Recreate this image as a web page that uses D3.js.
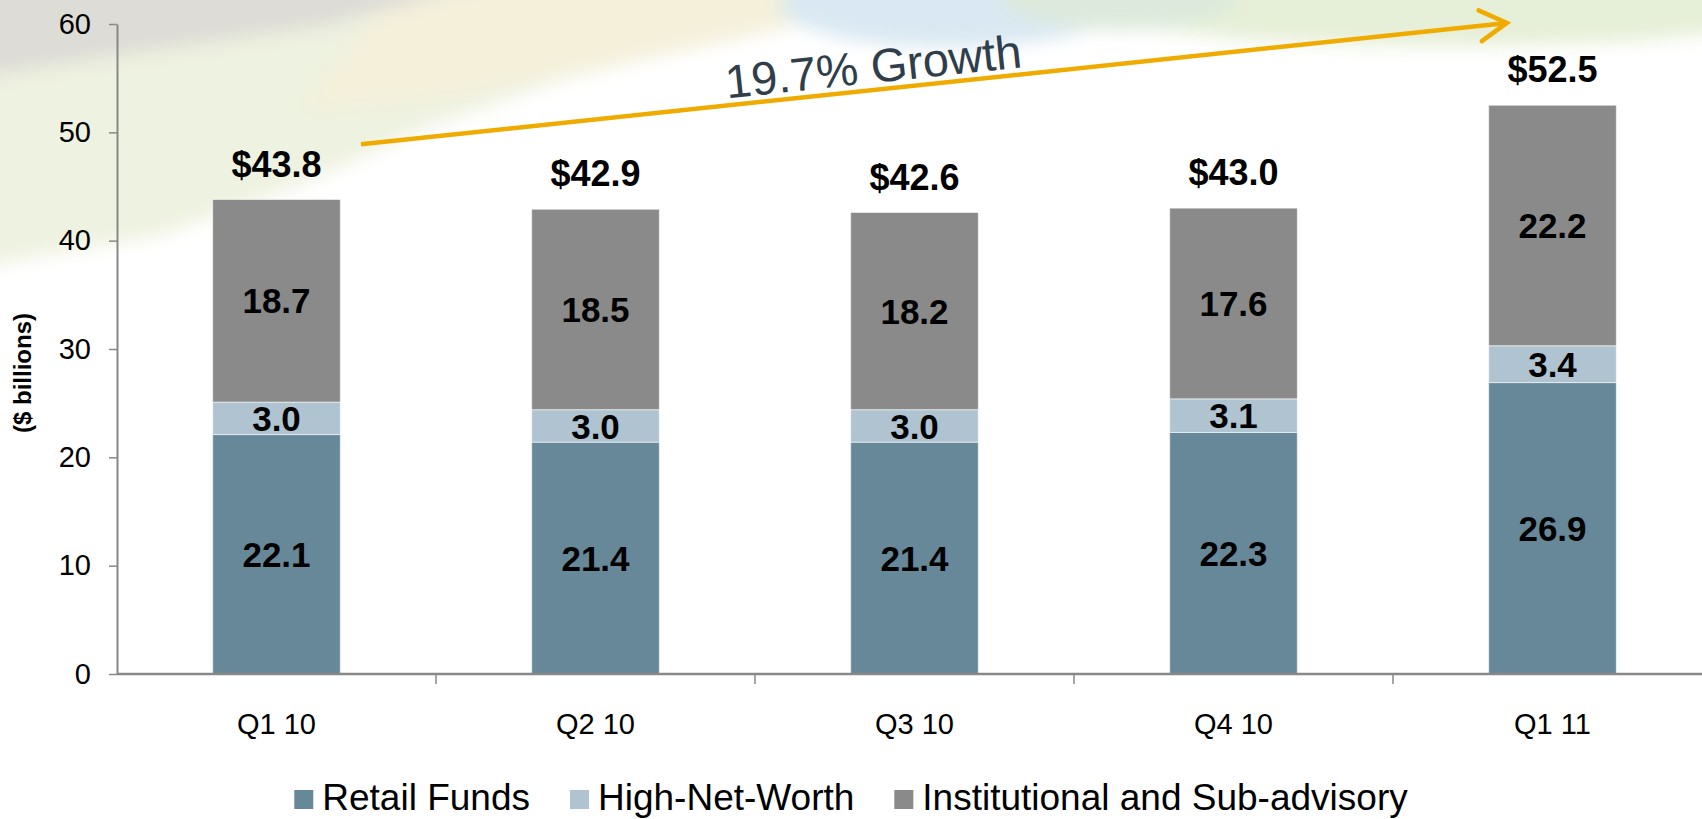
<!DOCTYPE html>
<html>
<head>
<meta charset="utf-8">
<script src="https://cdn.jsdelivr.net/npm/d3@7"></script>
<style>
  html, body { margin: 0; padding: 0; background: #fff; }
  svg { display: block; font-family: "Liberation Sans", Arial, sans-serif; }
</style>
</head>
<body>
<svg width="1702" height="819"></svg>
<script>
const width = 1702;
const height = 819;

// data
const quarters = ['Q1 10', 'Q2 10', 'Q3 10', 'Q4 10', 'Q1 11'];
const retailFunds = [22.1, 21.4, 21.4, 22.3, 26.9];
const highNetWorth = [3.0, 3.0, 3.0, 3.1, 3.4];
const institutional = [18.7, 18.5, 18.2, 17.6, 22.2];
const totals = [43.8, 42.9, 42.6, 43.0, 52.5];
const seriesNames = ['Retail Funds', 'High-Net-Worth', 'Institutional and Sub-advisory'];
const yTicks = [0, 10, 20, 30, 40, 50, 60];
const growthLabel = '19.7% Growth';
// arrow ends as [band index position, value]
const growthFrom = [0.765, 48.9];
const growthTo = [4.357, 60.1];

const colors = ['#678899', '#afc4d0', '#8a8a8a'];

const plot = { left: 117, right: 1712, top: 24, bottom: 674 };

const svg = d3.select('body svg');

// soft slide background at the top
const defs = svg.append('defs');
defs.append('filter')
    .attr('id', 'soft')
    .attr('x', '-20%').attr('y', '-50%').attr('width', '140%').attr('height', '200%')
    .append('feGaussianBlur')
    .attr('stdDeviation', 9);

const bg = svg.append('g').attr('filter', 'url(#soft)');
bg.append('path')
    .attr('d', 'M-40,-40 L980,-40 L760,30 L560,80 L420,130 L300,185 L160,235 L-40,270 Z')
    .attr('fill', '#eef2e0');
bg.append('path')
    .attr('d', 'M420,-40 L980,-40 L820,20 L640,60 L460,95 L300,110 Z')
    .attr('fill', '#f4f0da');
bg.append('path')
    .attr('d', 'M-40,-40 L560,-40 L330,25 L120,55 L-40,80 Z')
    .attr('fill', '#dddcd7');
bg.append('ellipse')
    .attr('cx', 950).attr('cy', 5).attr('rx', 170).attr('ry', 42)
    .attr('fill', '#d9e8f2');
bg.append('ellipse')
    .attr('cx', 1450).attr('cy', 0).attr('rx', 380).attr('ry', 46)
    .attr('fill', '#e6efd7');
bg.append('ellipse')
    .attr('cx', 1120).attr('cy', -5).attr('rx', 120).attr('ry', 35)
    .attr('fill', '#dde9dc');

const x = d3.scaleBand()
    .domain(quarters)
    .range([plot.left, plot.right])
    .paddingInner(0.6)
    .paddingOuter(0.3);

const xi = d3.scaleLinear()
    .domain([0, quarters.length])
    .range([plot.left, plot.right]);

const y = d3.scaleLinear()
    .domain([0, 60])
    .range([plot.bottom, plot.top]);

const rows = quarters.map((q, i) => ({
    quarter: q,
    'Retail Funds': retailFunds[i],
    'High-Net-Worth': highNetWorth[i],
    'Institutional and Sub-advisory': institutional[i],
    total: totals[i]
}));

const stacked = d3.stack().keys(seriesNames)(rows);

// bars
const layers = svg.append('g')
    .selectAll('g')
    .data(stacked)
    .join('g')
    .attr('fill', (d, i) => colors[i]);

layers.selectAll('rect')
    .data(d => d)
    .join('rect')
    .attr('x', d => x(d.data.quarter))
    .attr('y', d => y(d[1]))
    .attr('width', x.bandwidth())
    .attr('height', d => y(d[0]) - y(d[1]))
    .attr('stroke', 'rgba(255,255,255,0.55)')
    .attr('stroke-width', 1);

// segment values
layers.selectAll('text')
    .data(d => d)
    .join('text')
    .attr('x', d => x(d.data.quarter) + x.bandwidth() / 2)
    .attr('y', d => y((d[0] + d[1]) / 2))
    .attr('dy', '0.36em')
    .attr('text-anchor', 'middle')
    .attr('font-size', 35)
    .attr('font-weight', 'bold')
    .attr('fill', '#000')
    .text(d => (d[1] - d[0]).toFixed(1));

// totals
svg.append('g')
    .selectAll('text')
    .data(rows)
    .join('text')
    .attr('x', d => x(d.quarter) + x.bandwidth() / 2)
    .attr('y', d => y(d.total) - 23)
    .attr('text-anchor', 'middle')
    .attr('font-size', 36)
    .attr('font-weight', 'bold')
    .attr('fill', '#000')
    .text(d => '$' + d.total.toFixed(1));

// y axis
const yAxis = svg.append('g')
    .attr('transform', `translate(${plot.left},0)`)
    .call(d3.axisLeft(y).tickValues(yTicks).tickSize(8).tickSizeOuter(0).tickPadding(18));
yAxis.select('.domain').attr('stroke', '#888').attr('stroke-width', 2);
yAxis.selectAll('.tick line').attr('stroke', '#888').attr('stroke-width', 1.5);
yAxis.selectAll('.tick text')
    .attr('font-size', 29)
    .attr('font-family', '"Liberation Sans", Arial, sans-serif')
    .attr('fill', '#000');

// x axis: line, ticks between bands, labels under bars
const xAxis = svg.append('g');
xAxis.append('line')
    .attr('x1', plot.left).attr('x2', width)
    .attr('y1', plot.bottom).attr('y2', plot.bottom)
    .attr('stroke', '#888').attr('stroke-width', 2.5);
xAxis.selectAll('.sep')
    .data(d3.range(1, quarters.length))
    .join('line')
    .attr('class', 'sep')
    .attr('x1', d => xi(d)).attr('x2', d => xi(d))
    .attr('y1', plot.bottom).attr('y2', plot.bottom + 10)
    .attr('stroke', '#888').attr('stroke-width', 1.5);
xAxis.selectAll('text')
    .data(quarters)
    .join('text')
    .attr('x', d => x(d) + x.bandwidth() / 2)
    .attr('y', 734)
    .attr('text-anchor', 'middle')
    .attr('font-size', 29)
    .attr('fill', '#000')
    .text(d => d);

// y title
svg.append('text')
    .attr('transform', 'translate(31,373) rotate(-90)')
    .attr('text-anchor', 'middle')
    .attr('font-size', 24)
    .attr('font-weight', 'bold')
    .attr('fill', '#000')
    .text('($ billions)');

// growth arrow
const ax1 = xi(growthFrom[0]), ay1 = y(growthFrom[1]);
const ax2 = xi(growthTo[0]), ay2 = y(growthTo[1]);
const ang = Math.atan2(ay2 - ay1, ax2 - ax1);
const arm = 31, spread = Math.PI / 6;
const arrow = svg.append('g')
    .attr('stroke', '#efab00')
    .attr('stroke-width', 4.5)
    .attr('fill', 'none');
arrow.append('line')
    .attr('x1', ax1).attr('y1', ay1)
    .attr('x2', ax2).attr('y2', ay2);
arrow.append('path')
    .attr('stroke-linecap', 'round')
    .attr('stroke-linejoin', 'miter')
    .attr('d', d3.line()([
        [ax2 - arm * Math.cos(ang - spread), ay2 - arm * Math.sin(ang - spread)],
        [ax2, ay2],
        [ax2 - arm * Math.cos(ang + spread), ay2 - arm * Math.sin(ang + spread)]
    ]));

const tx = 875;
const ty = ay1 + (tx - ax1) * Math.tan(ang) - 7;
svg.append('text')
    .attr('transform', `translate(${tx},${ty}) rotate(${ang * 180 / Math.PI})`)
    .attr('text-anchor', 'middle')
    .attr('font-size', 47)
    .attr('fill', '#2f3e4a')
    .text(growthLabel);

// legend, centred on the page
const legend = svg.append('g').attr('transform', 'translate(0,798)');
const items = legend.selectAll('g')
    .data(seriesNames)
    .join('g');
items.append('rect')
    .attr('y', -8).attr('width', 19).attr('height', 19)
    .attr('fill', (d, i) => colors[i]);
items.append('text')
    .attr('x', 28)
    .attr('y', 12)
    .attr('font-size', 37)
    .attr('fill', '#000')
    .text(d => d);

const widths = [];
items.each(function() { widths.push(28 + this.querySelector('text').getComputedTextLength()); });
const gap = 40;
const total = d3.sum(widths) + gap * (widths.length - 1);
let cursor = width / 2 - total / 2;
items.attr('transform', (d, i) => {
    const t = `translate(${cursor},0)`;
    cursor += widths[i] + gap;
    return t;
});
</script>
</body>
</html>
